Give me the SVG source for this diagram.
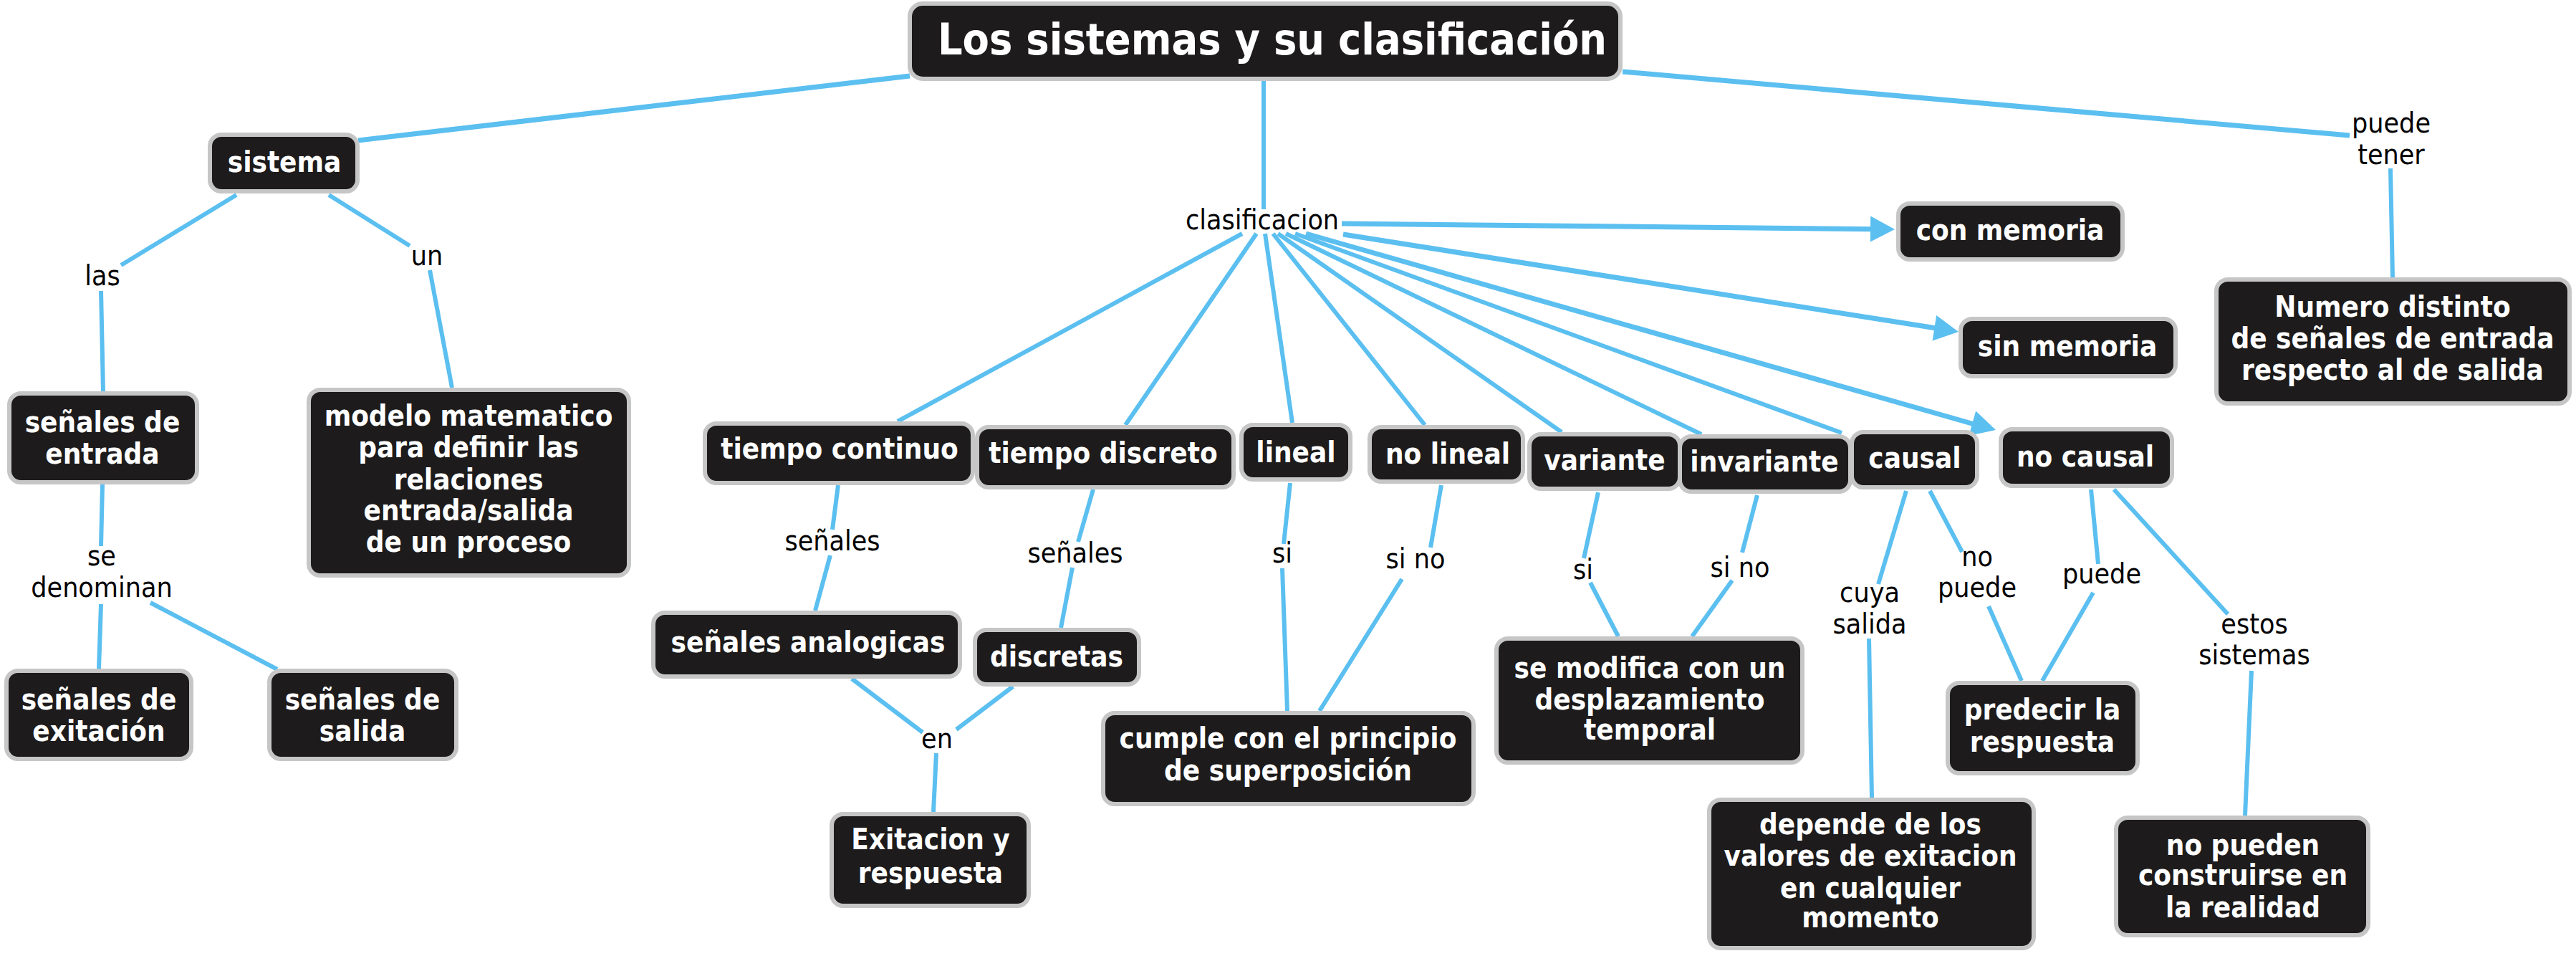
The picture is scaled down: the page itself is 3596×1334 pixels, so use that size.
<svg xmlns="http://www.w3.org/2000/svg" width="3596" height="1334" viewBox="0 0 3596 1334">
<style>
.n rect{fill:#1d1b1b;stroke:#c6c6c6;stroke-width:6}
.n text{font-family:'DejaVu Sans Condensed','DejaVu Sans',sans-serif;font-stretch:condensed;font-weight:bold;font-size:40px;fill:#ffffff;text-anchor:middle}
.t text{font-size:60.5px}
.l{font-family:'DejaVu Sans Condensed','DejaVu Sans',sans-serif;font-stretch:condensed;font-size:39px;fill:#000000;text-anchor:middle}
.c line{stroke:#5bbff0;stroke-width:6;stroke-linecap:butt}
.c .k{stroke-width:7}
.c polygon{fill:#5bbff0}
</style>
<rect width="3596" height="1334" fill="#ffffff"/>
<g class="c" id="connectors">
<line class="k" x1="1270" y1="106" x2="500" y2="196"/>
<line x1="1764" y1="113" x2="1764" y2="292"/>
<line class="k" x1="2265" y1="100" x2="3280" y2="189"/>
<line x1="3337" y1="235" x2="3340" y2="387"/>
<line x1="330" y1="272" x2="169" y2="370"/>
<line x1="141" y1="406" x2="144" y2="546"/>
<line x1="459" y1="272" x2="572" y2="343"/>
<line x1="600" y1="377" x2="631" y2="541"/>
<line x1="143" y1="676" x2="141" y2="762"/>
<line x1="141" y1="843" x2="138" y2="933"/>
<line x1="210" y1="841" x2="387" y2="934"/>
<line x1="1734" y1="326" x2="1253" y2="588"/>
<line x1="1754" y1="326" x2="1571" y2="593"/>
<line x1="1766" y1="326" x2="1804" y2="590"/>
<line x1="1777" y1="326" x2="1989" y2="593"/>
<line x1="1784" y1="326" x2="2180" y2="603"/>
<line x1="1795" y1="326" x2="2375" y2="606"/>
<line x1="1808" y1="326" x2="2571" y2="604"/>
<line class="k" x1="1823" y1="326" x2="2756" y2="592"/>
<polygon points="2786,600 2758.2,573.4 2748.4,608"/>
<line class="k" x1="1873" y1="312" x2="2614" y2="319.7"/>
<polygon points="2645,320 2611.2,301.6 2610.8,337.6"/>
<line class="k" x1="1875" y1="327" x2="2703" y2="458"/>
<polygon points="2734,463 2703.2,439.9 2697.6,475.5"/>
<line x1="1170" y1="677" x2="1162" y2="739"/>
<line x1="1159" y1="775" x2="1138" y2="852"/>
<line x1="1526" y1="683" x2="1505" y2="756"/>
<line x1="1497" y1="792" x2="1481" y2="876"/>
<line x1="1189" y1="947" x2="1288" y2="1022"/>
<line x1="1414" y1="958" x2="1335" y2="1018"/>
<line x1="1307" y1="1051" x2="1303" y2="1133"/>
<line x1="1801" y1="674" x2="1792" y2="759"/>
<line x1="1790" y1="793" x2="1797" y2="992"/>
<line x1="2012" y1="677" x2="1997" y2="764"/>
<line x1="1957" y1="808" x2="1842" y2="992"/>
<line x1="2231" y1="687" x2="2211" y2="779"/>
<line x1="2220" y1="813" x2="2259" y2="888"/>
<line x1="2453" y1="691" x2="2432" y2="771"/>
<line x1="2418" y1="810" x2="2362" y2="888"/>
<line x1="2661" y1="685" x2="2622" y2="815"/>
<line x1="2609" y1="891" x2="2613" y2="1113"/>
<line x1="2694" y1="685" x2="2739" y2="770"/>
<line x1="2776" y1="846" x2="2822" y2="950"/>
<line x1="2919" y1="683" x2="2929" y2="787"/>
<line x1="2922" y1="827" x2="2851" y2="950"/>
<line x1="2951" y1="683" x2="3110" y2="857"/>
<line x1="3143" y1="936" x2="3134" y2="1138"/>
</g>
<g class="labels">
<text class="l" x="143" y="398">las</text>
<text class="l" x="596" y="370">un</text>
<text class="l" x="142" y="789">se</text>
<text class="l" x="142" y="833">denominan</text>
<text class="l" x="1762" y="320">clasificacion</text>
<text class="l" x="3338" y="185">puede</text>
<text class="l" x="3338" y="229">tener</text>
<text class="l" x="1162" y="768">señales</text>
<text class="l" x="1501" y="785">señales</text>
<text class="l" x="1308" y="1044">en</text>
<text class="l" x="1790" y="785">si</text>
<text class="l" x="1976" y="793">si no</text>
<text class="l" x="2210" y="808">si</text>
<text class="l" x="2429" y="805">si no</text>
<text class="l" x="2610" y="840">cuya</text>
<text class="l" x="2610" y="884">salida</text>
<text class="l" x="2760" y="790">no</text>
<text class="l" x="2760" y="833">puede</text>
<text class="l" x="2934" y="814">puede</text>
<text class="l" x="3147" y="884">estos</text>
<text class="l" x="3147" y="927">sistemas</text>
</g>
<g class="n t" id="n-title"><rect x="1270" y="5" width="992" height="105" rx="18"/><text x="1776" y="76">Los sistemas y su clasificación</text></g>
<g class="n" id="n-sistema"><rect x="293" y="188" width="206" height="79" rx="16"/><text x="397" y="240">sistema</text></g>
<g class="n" id="n-entrada"><rect x="13" y="549" width="262" height="124" rx="16"/><text x="143" y="603">señales de</text><text x="143" y="647">entrada</text></g>
<g class="n" id="n-modelo"><rect x="431" y="544" width="447" height="259" rx="16"/><text x="654" y="594">modelo matematico</text><text x="654" y="638">para definir las</text><text x="654" y="683">relaciones</text><text x="654" y="726">entrada/salida</text><text x="654" y="770">de un proceso</text></g>
<g class="n" id="n-exitacion"><rect x="9" y="936" width="258" height="123" rx="16"/><text x="138" y="990">señales de</text><text x="138" y="1034">exitación</text></g>
<g class="n" id="n-salida"><rect x="376" y="936" width="261" height="123" rx="16"/><text x="506" y="990">señales de</text><text x="506" y="1034">salida</text></g>
<g class="n" id="n-tcontinuo"><rect x="984" y="591" width="374" height="83" rx="16"/><text x="1172" y="640">tiempo continuo</text></g>
<g class="n" id="n-tdiscreto"><rect x="1364" y="596" width="358" height="84" rx="16"/><text x="1540" y="646">tiempo discreto</text></g>
<g class="n" id="n-lineal"><rect x="1733" y="593" width="152" height="76" rx="16"/><text x="1809" y="645">lineal</text></g>
<g class="n" id="n-nolineal"><rect x="1912" y="596" width="214" height="76" rx="16"/><text x="2021" y="647">no lineal</text></g>
<g class="n" id="n-variante"><rect x="2135" y="606" width="210" height="76" rx="16"/><text x="2240" y="656">variante</text></g>
<g class="n" id="n-invariante"><rect x="2345" y="609" width="238" height="77" rx="16"/><text x="2463" y="658">invariante</text></g>
<g class="n" id="n-causal"><rect x="2585" y="603" width="175" height="77" rx="16"/><text x="2673" y="653">causal</text></g>
<g class="n" id="n-nocausal"><rect x="2793" y="599" width="239" height="79" rx="16"/><text x="2911" y="651">no causal</text></g>
<g class="n" id="n-conmemoria"><rect x="2650" y="284" width="313" height="78" rx="16"/><text x="2806" y="335">con memoria</text></g>
<g class="n" id="n-sinmemoria"><rect x="2737" y="445" width="300" height="80" rx="16"/><text x="2886" y="497">sin memoria</text></g>
<g class="n" id="n-numero"><rect x="3094" y="390" width="493" height="173" rx="16"/><text x="3340" y="442">Numero distinto</text><text x="3340" y="486">de señales de entrada</text><text x="3340" y="530">respecto al de salida</text></g>
<g class="n" id="n-analogicas"><rect x="912" y="855" width="428" height="89" rx="16"/><text x="1128" y="910">señales analogicas</text></g>
<g class="n" id="n-discretas"><rect x="1361" y="879" width="229" height="76" rx="16"/><text x="1475" y="930">discretas</text></g>
<g class="n" id="n-exitresp"><rect x="1161" y="1136" width="275" height="128" rx="16"/><text x="1299" y="1185">Exitacion y</text><text x="1299" y="1232">respuesta</text></g>
<g class="n" id="n-cumple"><rect x="1540" y="995" width="517" height="127" rx="16"/><text x="1798" y="1044">cumple con el principio</text><text x="1798" y="1089">de superposición</text></g>
<g class="n" id="n-modifica"><rect x="2089" y="891" width="427" height="173" rx="16"/><text x="2303" y="946">se modifica con un</text><text x="2303" y="990">desplazamiento</text><text x="2303" y="1032">temporal</text></g>
<g class="n" id="n-depende"><rect x="2386" y="1116" width="453" height="207" rx="16"/><text x="2611" y="1164">depende de los</text><text x="2611" y="1208">valores de exitacion</text><text x="2611" y="1253">en cualquier</text><text x="2611" y="1294">momento</text></g>
<g class="n" id="n-predecir"><rect x="2719" y="953" width="265" height="126" rx="16"/><text x="2851" y="1004">predecir la</text><text x="2851" y="1049">respuesta</text></g>
<g class="n" id="n-nopueden"><rect x="2954" y="1141" width="352" height="164" rx="16"/><text x="3131" y="1193">no pueden</text><text x="3131" y="1235">construirse en</text><text x="3131" y="1280">la realidad</text></g>
</svg>
